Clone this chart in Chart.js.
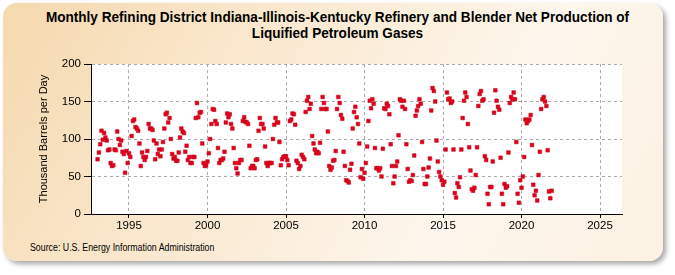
<!DOCTYPE html>
<html>
<head>
<meta charset="utf-8">
<script src="https://cdn.jsdelivr.net/npm/chart.js@4.4.0/dist/chart.umd.min.js"></script>
<style>
  html, body { margin: 0; padding: 0; background: #fff; }
  #card {
    position: absolute; left: 3px; top: 3px; width: 660px; height: 258px;
    border-radius: 14px;
    background: linear-gradient(120deg, #f5d9ae 0%, #fae8cf 35%, #fdf6ec 70%, #fcf1e2 100%);
    box-shadow: 3px 3px 5px rgba(0,0,0,0.35);
  }
  #title {
    position: absolute; left: 0; top: 9px; width: 675px; text-align: center;
    font: bold 14px "Liberation Sans Narrow", "Arial Narrow", "Liberation Sans", sans-serif;
    line-height: 16px; color: #000;
    transform: scaleX(0.97);
  }
  #source {
    position: absolute; left: 30px; top: 242px;
    font: 10px "Liberation Sans Narrow", "Arial Narrow", "Liberation Sans", sans-serif; color: #000;
    transform: scaleX(0.88); transform-origin: left center;
  }
  #chart { position: absolute; left: 0; top: 0; }
</style>
</head>
<body>
<div id="card"></div>
<div id="title">Monthly Refining District Indiana-Illinois-Kentucky Refinery and Blender Net Production of<br>Liquified Petroleum Gases</div>
<div id="source">Source: U.S. Energy Information Administration</div>
<canvas id="chart" width="675" height="275"></canvas>
<script>
// thousand barrels per day, Jan..Dec of each year
var p1993 = [73, 82, 93, 111, 99, 108, 102, 98, 85, 86, 68, 64];
var p1994 = [65, 86, 85, 110, 100, 92, 98, 83, 80, 55, 84, 68];
var p1995 = [81, 76, 104, 124, 126, 116, 114, 111, 94, 64, 82, 76];
var p1996 = [72, 76, 84, 120, 114, 114, 112, 98, 73, 94, 80, 86];
var p1997 = [77, 86, 96, 114, 133, 135, 122, 128, 100, 80, 74, 76];
var p1998 = [71, 71, 82, 102, 114, 110, 108, 83, 91, 72, 76, 68];
var p1999 = [68, 76, 76, 128, 148, 129, 135, 136, 94, 68, 64, 65];
var p2000 = [70, 81, 100, 120, 140, 139, 124, 120, 88, 68, 72, 72];
var p2001 = [74, 83, 122, 134, 129, 133, 120, 114, 88, 68, 61, 54];
var p2002 = [68, 72, 72, 124, 129, 123, 122, 120, 91, 61, 64, 64];
var p2003 = [61, 72, 73, 111, 128, 120, 120, 114, 90, 68, 64, 68];
var p2004 = [68, 68, 100, 119, 128, 122, 122, 96, 65, 73, 76, 77];
var p2005 = [77, 72, 65, 124, 126, 134, 133, 119, 71, 68, 60, 64];
var p2006 = [79, 76, 73, 136, 151, 156, 140, 147, 104, 94, 86, 81];
var p2007 = [83, 81, 95, 140, 156, 148, 140, 140, 110, 64, 59, 62];
var p2008 = [71, 72, 84, 140, 156, 148, 132, 127, 83, 64, 45, 44];
var p2009 = [42, 59, 67, 114, 136, 143, 129, 120, 94, 49, 60, 47];
var p2010 = [55, 68, 90, 124, 151, 141, 153, 147, 88, 61, 61, 58];
var p2011 = [61, 50, 87, 141, 140, 147, 144, 133, 93, 64, 41, 50];
var p2012 = [64, 70, 105, 153, 151, 143, 151, 140, 93, 60, 43, 45];
var p2013 = [44, 52, 78, 131, 138, 144, 153, 147, 96, 60, 40, 40];
var p2014 = [50, 62, 74, 138, 168, 164, 150, 98, 70, 56, 50, 45];
var p2015 = [39, 43, 86, 162, 153, 154, 148, 150, 86, 28, 22, 41];
var p2016 = [36, 49, 86, 128, 151, 162, 156, 120, 89, 58, 33, 31];
var p2017 = [35, 52, 89, 144, 160, 164, 151, 153, 77, 72, 27, 13];
var p2018 = [36, 36, 70, 135, 165, 151, 143, 139, 75, 27, 13, 40];
var p2019 = [35, 37, 82, 148, 156, 153, 162, 153, 96, 27, 15, 45];
var p2020 = [35, 50, 76, 126, 121, 124, 126, 132, 92, 39, 25, 31];
var p2021 = [18, 52, 83, 140, 153, 156, 150, 144, 85, 30, 21, 31];

var firstYear = 1993;
var yearly = [p1993, p1994, p1995, p1996, p1997, p1998, p1999, p2000, p2001, p2002,
              p2003, p2004, p2005, p2006, p2007, p2008, p2009, p2010, p2011, p2012,
              p2013, p2014, p2015, p2016, p2017, p2018, p2019, p2020, p2021];
var xTicks = [1995, 2000, 2005, 2010, 2015, 2020, 2025];
var yTicks = [0, 50, 100, 150, 200];

var points = [];
yearly.forEach(function (vals, i) {
    vals.forEach(function (v, m) {
        points.push({ x: firstYear + i + m / 12, y: v });
    });
});

var fam = '"Liberation Sans Narrow", "Arial Narrow", "Liberation Sans", sans-serif';
var tickFont = { family: fam, size: 11.5 };

// white plot area on top of the beige card
var plotBg = {
    id: 'plotBg',
    beforeDraw: function (chart) {
        var a = chart.chartArea;
        chart.ctx.save();
        chart.ctx.fillStyle = '#fff';
        chart.ctx.fillRect(a.left, a.top, a.right - a.left, a.bottom - a.top);
        chart.ctx.restore();
    }
};

var ctx = document.getElementById('chart').getContext('2d');
var myChart = new Chart(ctx, {
    type: 'scatter',
    data: {
        datasets: [{
            data: points,
            pointStyle: 'rect',
            pointRadius: 2.6,
            backgroundColor: '#e2001a',
            borderColor: '#c4001a',
            borderWidth: 0.5,
        }],
    },
    options: {
        responsive: false,
        animation: false,
        layout: { padding: { left: 0, right: 53, top: 64, bottom: 37 } },
        plugins: { legend: { display: false }, tooltip: { enabled: false } },
        scales: {
            x: {
                type: 'linear',
                min: 1992.58,
                max: 2026.4,
                afterBuildTicks: function (scale) {
                    scale.ticks = xTicks.map(function (v) { return { value: v }; });
                },
                afterFit: function (scale) { scale.height = 24; },
                ticks: { color: '#000', font: tickFont, padding: 1, maxRotation: 0,
                         callback: function (v) { return String(v); } },
                grid: { color: '#aaaaaa', tickColor: '#000', tickLength: 4, lineWidth: 1 },
                border: { color: '#000', width: 1, dash: [3, 3] },
            },
            y: {
                min: 0,
                max: 200,
                afterBuildTicks: function (scale) {
                    scale.ticks = yTicks.map(function (v) { return { value: v }; });
                },
                afterFit: function (scale) { scale.width = 91; },
                ticks: { color: '#000', font: tickFont, padding: 3 },
                grid: { color: '#aaaaaa', tickColor: '#000', tickLength: 7, lineWidth: 1 },
                border: { color: '#000', width: 1, dash: [3, 3] },
                title: {
                    display: true,
                    text: 'Thousand Barrels per Day',
                    color: '#000',
                    font: { family: fam, size: 11 },
                    padding: { top: 37, bottom: 0 },
                },
            },
        },
    },
    plugins: [plotBg],
});
</script>
</body>
</html>
